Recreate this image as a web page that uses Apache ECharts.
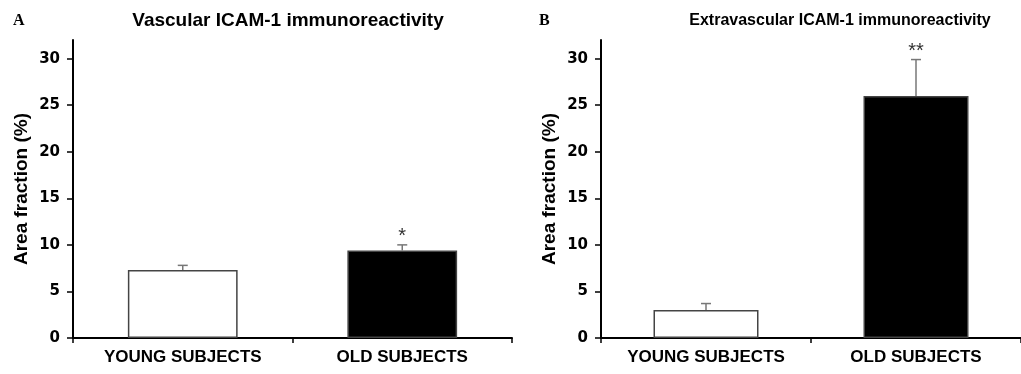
<!DOCTYPE html>
<html>
<head>
<meta charset="utf-8">
<script src="https://cdn.jsdelivr.net/npm/echarts@6/dist/echarts.min.js"></script>
<style>
  html, body { margin: 0; padding: 0; background: #fff; }
  #chart { width: 1021px; height: 374px; }
</style>
</head>
<body>
<div id="chart"></div>
<script>
// data
var categories = ['YOUNG SUBJECTS', 'OLD SUBJECTS'];
var vascMean = [7.3, 9.4];
var vascErrTop = [7.8, 10.0];
var vascSig = ['', '*'];
var extraMean = [3.0, 26.0];
var extraErrTop = [3.7, 29.9];
var extraSig = ['', '**'];
var yTicks = [0, 5, 10, 15, 20, 25, 30];
var barFill = ['#ffffff', '#000000'];

var chart = echarts.init(document.getElementById('chart'));

function barData(means) {
    return means.map(function (v, i) {
        return { value: v, itemStyle: { color: barFill[i] } };
    });
}

function errData(means, tops, sig) {
    return means.map(function (v, i) {
        return [i, v, tops[i], sig[i]];
    });
}

// upper error bar + significance stars
function renderErr(params, api) {
    var x = api.value(0);
    var lo = api.coord([x, api.value(1)]);
    var hi = api.coord([x, api.value(2)]);
    var sig = api.value(3);
    var style = { stroke: '#777', lineWidth: 1.5 };
    var children = [
        { type: 'line', shape: { x1: lo[0], y1: lo[1], x2: hi[0], y2: hi[1] }, style: style },
        { type: 'line', shape: { x1: hi[0] - 5, y1: hi[1], x2: hi[0] + 5, y2: hi[1] }, style: style }
    ];
    if (sig) {
        children.push({
            type: 'text',
            style: {
                text: sig, x: hi[0], y: hi[1] + 2,
                align: 'center', verticalAlign: 'bottom',
                font: '20px "Liberation Sans"', fill: '#333'
            }
        });
    }
    return { type: 'group', children: children };
}

function xAxisFor(idx) {
    return {
        type: 'category', gridIndex: idx, data: categories,
        axisLine: { lineStyle: { color: '#000', width: 2 } },
        axisTick: { show: true, length: 5, lineStyle: { color: '#000', width: 1.5 } },
        axisLabel: {
            color: '#000', fontFamily: 'Liberation Sans', fontWeight: 'bold',
            fontSize: 17, margin: 11
        }
    };
}

function yAxisFor(idx) {
    return {
        type: 'value', gridIndex: idx, min: 0, max: 32,
        name: 'Area fraction (%)', nameLocation: 'middle', nameGap: 42,
        nameTextStyle: { color: '#000', fontFamily: 'Liberation Sans', fontWeight: 'bold', fontSize: 19 },
        splitLine: { show: false },
        axisLine: { show: true, lineStyle: { color: '#000', width: 2 } },
        axisTick: { show: true, inside: false, length: 6, customValues: yTicks,
            lineStyle: { color: '#000', width: 1.5 } },
        axisLabel: {
            customValues: yTicks, color: '#000', fontFamily: 'DejaVu Sans',
            fontWeight: 'bold', fontSize: 15, margin: 13
        }
    };
}

var titleFont = { color: '#000', fontFamily: 'Liberation Sans', fontWeight: 'bold' };
var letterFont = { color: '#000', fontFamily: 'Liberation Serif', fontWeight: 'bold', fontSize: 16 };

var option = {
    animation: false,
    title: [
        { text: 'A', left: 13, top: 13, padding: 0, textStyle: letterFont },
        { text: 'B', left: 539, top: 13, padding: 0, textStyle: letterFont },
        { text: 'Vascular ICAM-1 immunoreactivity', left: 288, top: 11, padding: 0, textAlign: 'center',
          textStyle: Object.assign({ fontSize: 19 }, titleFont) },
        { text: 'Extravascular ICAM-1 immunoreactivity', left: 840, top: 13, padding: 0, textAlign: 'center',
          textStyle: Object.assign({ fontSize: 16 }, titleFont) }
    ],
    grid: [
        { left: 73, top: 40, width: 439, height: 298 },
        { left: 601, top: 40, width: 423, height: 298 }
    ],
    xAxis: [xAxisFor(0), xAxisFor(1)],
    yAxis: [yAxisFor(0), yAxisFor(1)],
    series: [
        { type: 'bar', xAxisIndex: 0, yAxisIndex: 0, barWidth: '50%', data: barData(vascMean),
          itemStyle: { borderColor: '#444', borderWidth: 1.5 } },
        { type: 'custom', xAxisIndex: 0, yAxisIndex: 0, renderItem: renderErr,
          data: errData(vascMean, vascErrTop, vascSig), z: 3 },
        { type: 'bar', xAxisIndex: 1, yAxisIndex: 1, barWidth: '50%', data: barData(extraMean),
          itemStyle: { borderColor: '#444', borderWidth: 1.5 } },
        { type: 'custom', xAxisIndex: 1, yAxisIndex: 1, renderItem: renderErr,
          data: errData(extraMean, extraErrTop, extraSig), z: 3 }
    ]
};

chart.setOption(option);
</script>
</body>
</html>
